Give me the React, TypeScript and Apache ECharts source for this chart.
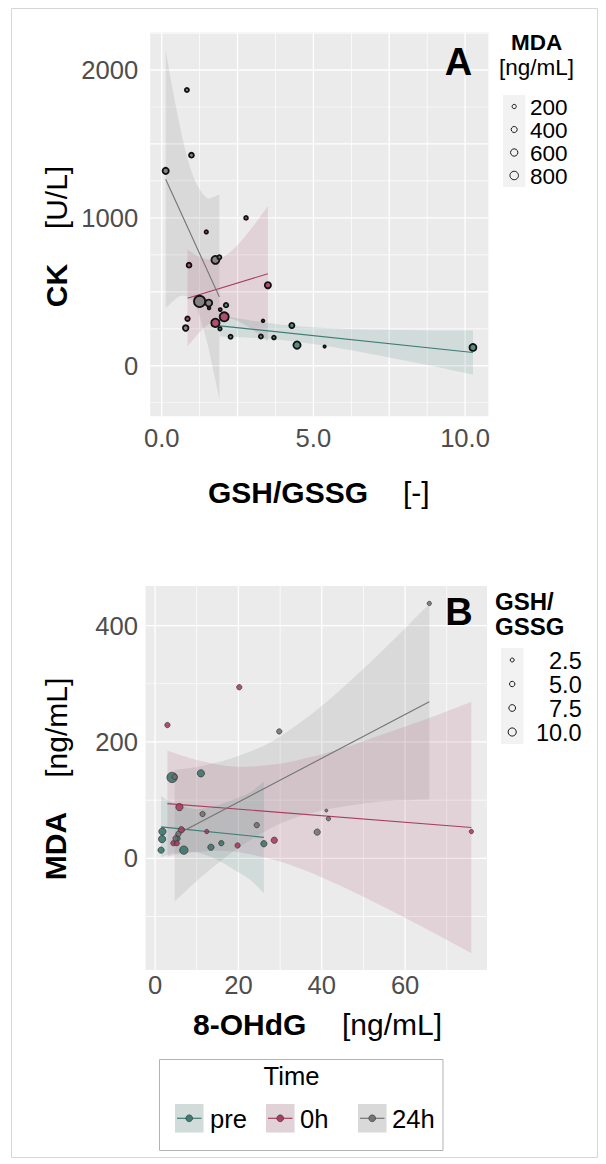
import React, { useEffect, useRef } from "react";
import * as echarts from "echarts";

const FONT = '"Liberation Sans", Arial, Helvetica, sans-serif';

// ---------- Panel A : CK vs GSH/GSSG, size = MDA ----------
const preA_gsh = [2.12, 1.92, 2.27, 3.27, 3.7, 4.29, 4.46, 10.26, 3.34, 5.37];
const preA_ck = [410, 250, 196, 198, 191, 272, 140, 124, 304, 130];
const preA_mda = [225, 131, 184, 184, 156, 294, 590, 539, 80, 62];
const h0A_gsh = [2.78, 1.47, 0.9, 3.5, 1.56, 1.93, 2.06, 0.85, 1.77];
const h0A_ck = [1000, 905, 680, 545, 390, 380, 331, 318, 290];
const h0A_mda = [156, 131, 258, 429, 80, 100, 922, 225, 776];
const h24A_gsh = [0.13, 0.83, 0.98, 1.77, 1.9, 1.25, 1.55, 0.79];
const h24A_ck = [1318, 1865, 1424, 716, 734, 435, 424, 255];
const h24A_mda = [429, 184, 258, 717, 184, 1406, 539, 345];

const preA_fitX = [1.92, 10.26];
const preA_fitY = [270, 90];
const h0A_fitX = [0.85, 3.5];
const h0A_fitY = [457, 622];
const h24A_fitX = [0.13, 1.9];
const h24A_fitY = [1262, 466];

const preA_bandX = [1.92, 2.5, 3.0, 3.5, 4.1, 5, 6, 7, 8, 9, 10.26];
const preA_bandHi = [342, 321, 305, 290, 275, 260, 250, 244, 242, 239, 239];
const preA_bandLo = [198, 194, 189, 182, 171, 147, 114, 76, 36, -5, -59];
const h0A_bandX = [0.85, 1.2, 1.5, 1.87, 2.2, 2.6, 3.0, 3.5];
const h0A_bandHi = [784, 742, 720, 722, 760, 839, 940, 1080];
const h0A_bandLo = [130, 216, 274, 318, 322, 293, 242, 164];
const h24A_bandX = [0.13, 0.35, 0.6, 0.85, 1.15, 1.48, 1.7, 1.9];
const h24A_bandHi = [2135, 1880, 1620, 1400, 1230, 1137, 1142, 1160];
const h24A_bandLo = [389, 432, 470, 466, 389, 171, -31, -225];

// ---------- Panel B : MDA vs 8-OHdG, size = GSH/GSSG ----------
const preB_ohdg = [4.08, 11.0, 1.76, 1.68, 1.44, 6.9, 13.4, 15.9, 26.1, 5.4];
const preB_mda = [139, 146, 46, 33, 14, 14, 19, 26, 25, 34];
const preB_gsh = [14, 8.5, 8.5, 8.5, 6.7, 10.4, 6.7, 4.9, 6.7, 4.9];
const h0B_ohdg = [20.2, 2.96, 5.84, 75.9, 6.3, 12.4, 19.8, 28.6, 4.4, 5.2];
const h0B_mda = [294, 229, 88, 46, 49, 46, 22, 31, 26, 26];
const h0B_gsh = [4.9, 4.9, 8.5, 3.1, 6.7, 3.1, 4.9, 6.7, 4.9, 4.9];
const h24B_ohdg = [65.8, 29.8, 4.7, 11.4, 24.4, 41.1, 41.6, 38.9, 5.6, 4.9];
const h24B_mda = [438, 218, 140, 76, 57, 82, 68, 45, 42, 34];
const h24B_gsh = [3.1, 4.9, 4.9, 4.9, 4.9, 0.5, 3.1, 6.7, 4.9, 4.9];

const preB_fitX = [1.44, 26.1];
const preB_fitY = [54, 36];
const h0B_fitX = [2.96, 75.9];
const h0B_fitY = [94, 53];
const h24B_fitX = [4.7, 65.8];
const h24B_fitY = [39, 269];

const preB_bandX = [1.44, 3, 5, 9.1, 12, 15, 20, 23, 26.1];
const preB_bandHi = [107, 100, 93, 85, 86, 91, 104, 114, 132];
const preB_bandLo = [2, 6, 9, 11, 6, -3, -24, -38, -60];
const h0B_bandX = [2.96, 10, 18.2, 27, 35, 45, 55, 65, 75.9];
const h0B_bandHi = [185, 169, 158, 160, 170, 189, 214, 239, 269];
const h0B_bandLo = [3, 11, 12, 0, -18, -49, -84, -121, -163];
const h24B_bandX = [4.7, 10, 15, 20, 26.8, 33, 40, 47, 55, 65.8];
const h24B_bandHi = [152, 157, 165, 176, 196, 224, 262, 306, 360, 437];
const h24B_bandLo = [-74, -39, -9, 18, 48, 68, 82, 91, 98, 101];

// ---------- axes / legends ----------
const A_xRange = [-0.38, 10.77];
const A_yRange = [-341, 2253];
const B_xRange = [-2.3, 79.65];
const B_yRange = [-192, 468];
const A_xTicks = [0, 2.5, 5, 7.5, 10];
const A_xLabels = [0, 5, 10];
const A_yTicks = [0, 500, 1000, 1500, 2000];
const A_yLabels = [0, 1000, 2000];
const A_xMinor = [1.25, 3.75, 6.25, 8.75];
const A_yMinor = [-250, 250, 750, 1250, 1750, 2250];
const B_xTicks = [0, 20, 40, 60];
const B_xMinor = [10, 30, 50, 70];
const B_yTicks = [0, 200, 400];
const B_yMinor = [-100, 100, 300];
const mdaLegend = [200, 400, 600, 800];
const gshLegend = [2.5, 5.0, 7.5, 10.0];
const timeLevels = ["pre", "0h", "24h"];

const C = { teal: "#3d7d74", red: "#a83f60", gray: "#747474" };
const PT_A = { teal: "rgba(70,134,124,0.92)", red: "rgba(172,66,100,0.92)", gray: "rgba(125,125,125,0.92)" };
const PT_B = { teal: "rgba(52,112,102,0.85)", red: "rgba(168,52,90,0.85)", gray: "rgba(110,110,110,0.85)" };
const BAND = { teal: "rgba(62,127,118,0.15)", red: "rgba(166,63,96,0.14)", gray: "rgba(130,130,130,0.17)" };
const PANEL_BG = "#ebebeb";

const sizeA = (m: number) => 0.3 * Math.sqrt(m);
const sizeB = (g: number) => 2.6 + 0.55 * g;

function zip2(a: number[], b: number[]) {
  return a.map((v, i) => [v, b[i]]);
}

// Catmull-Rom smoothing of pixel points (rendering only)
function smoothPx(p: number[][], steps = 10) {
  const out: number[][] = [];
  const n = p.length;
  for (let i = 0; i < n - 1; i++) {
    const p0 = p[Math.max(i - 1, 0)];
    const p1 = p[i];
    const p2 = p[i + 1];
    const p3 = p[Math.min(i + 2, n - 1)];
    for (let s = 0; s < steps; s++) {
      const t = s / steps;
      const t2 = t * t;
      const t3 = t2 * t;
      const f = (a: number, b: number, c: number, d: number) =>
        0.5 * (2 * b + (-a + c) * t + (2 * a - 5 * b + 4 * c - d) * t2 + (-a + 3 * b - 3 * c + d) * t3);
      out.push([f(p0[0], p1[0], p2[0], p3[0]), f(p0[1], p1[1], p2[1], p3[1])]);
    }
  }
  out.push(p[n - 1]);
  return out;
}

function bandSeries(id: string, gi: number, xs: number[], lo: number[], hi: number[], color: string) {
  return {
    id,
    type: "custom",
    xAxisIndex: gi,
    yAxisIndex: gi,
    silent: true,
    z: 3,
    clip: true,
    encode: { x: 0, y: [1, 2] },
    data: xs.map((x, i) => [x, lo[i], hi[i]]),
    renderItem: (params: any, api: any) => {
      if (params.dataIndex !== 0) return { type: "group", children: [] };
      const top = smoothPx(xs.map((x, i) => api.coord([x, hi[i]])));
      const bot = smoothPx(xs.map((x, i) => api.coord([x, lo[i]])));
      const pts = top.concat(bot.reverse());
      return { type: "polygon", shape: { points: pts }, style: { fill: color, stroke: "none" } };
    },
  };
}

// panel background + white grid lines, placed through the axes' scales
function panelSeries(id: string, gi: number, xMaj: number[], xMin: number[], yMaj: number[], yMin: number[], xr: number[], yr: number[]) {
  const rows: number[][] = [
    ...xMin.map((v) => [v, 0, 0]),
    ...yMin.map((v) => [v, 1, 0]),
    ...xMaj.map((v) => [v, 0, 1]),
    ...yMaj.map((v) => [v, 1, 1]),
  ];
  return {
    id,
    type: "custom",
    xAxisIndex: gi,
    yAxisIndex: gi,
    silent: true,
    z: 1,
    clip: false,
    encode: { x: 0, y: 1 },
    data: rows,
    renderItem: (params: any, api: any) => {
      const p0 = api.coord([xr[0], yr[1]]);
      const p1 = api.coord([xr[1], yr[0]]);
      const children: any[] = [];
      if (params.dataIndex === 0) {
        children.push({
          type: "rect",
          z2: -10,
          shape: { x: p0[0], y: p0[1], width: p1[0] - p0[0], height: p1[1] - p0[1] },
          style: { fill: PANEL_BG },
        });
      }
      const v = rows[params.dataIndex][0];
      const horiz = rows[params.dataIndex][1] === 1;
      const w = rows[params.dataIndex][2] === 1 ? 1.3 : 0.7;
      if (horiz) {
        const c = api.coord([xr[0], v]);
        children.push({ type: "rect", z2: 1, shape: { x: p0[0], y: c[1] - w / 2, width: p1[0] - p0[0], height: w }, style: { fill: "#ffffff" } });
      } else {
        const c = api.coord([v, yr[0]]);
        children.push({ type: "rect", z2: 1, shape: { x: c[0] - w / 2, y: p0[1], width: w, height: p1[1] - p0[1] }, style: { fill: "#ffffff" } });
      }
      return { type: "group", children };
    },
  };
}

function fitSeries(id: string, gi: number, xs: number[], ys: number[], color: string) {
  return {
    id,
    type: "line",
    xAxisIndex: gi,
    yAxisIndex: gi,
    symbol: "none",
    silent: true,
    z: 4,
    lineStyle: { color, width: 1.1 },
    data: zip2(xs, ys),
  };
}

function pointSeries(id: string, gi: number, xs: number[], ys: number[], s: number[], fill: string, sizeFn: (v: number) => number, bw: number, bc: string) {
  return {
    id,
    type: "scatter",
    xAxisIndex: gi,
    yAxisIndex: gi,
    z: 5,
    silent: true,
    symbol: "circle",
    data: xs.map((x, i) => [x, ys[i], s[i]]),
    symbolSize: (v: number[]) => sizeFn(v[2]),
    itemStyle: { color: fill, borderColor: bc, borderWidth: bw, opacity: 1 },
  };
}

const tickStyle = { show: true, length: 3, inside: false, lineStyle: { color: "#333", width: 1 } };
const labelBase = { fontFamily: FONT, fontSize: 25.6, color: "#4d4d4d" };

function txt(text: string, x: number, y: number, font: string, align = "center", rot = 0, fill = "#000") {
  return {
    type: "text",
    x,
    y,
    z: 100,
    rotation: rot,
    silent: true,
    style: { text, font, fill, align, verticalAlign: "middle", textAlign: align, textVerticalAlign: "middle" },
  };
}

function buildGraphic() {
  const els: any[] = [];
  els.push({ type: "rect", z: 100, silent: true, shape: { x: 11.5, y: 8.5, width: 586, height: 1149 }, style: { fill: "none", stroke: "#d6d6d6", lineWidth: 1 } });
  els.push(txt("A", 458.5, 62, `bold 38px ${FONT}`));
  els.push(txt("B", 459, 612, `bold 38px ${FONT}`));
  els.push(txt("GSH/GSSG", 208, 492, `bold 30px ${FONT}`, "left"));
  els.push(txt("[-]", 403, 492, `30px ${FONT}`, "left"));
  els.push(txt("CK", 56, 285.5, `bold 30px ${FONT}`, "center", Math.PI / 2));
  els.push(txt("[U/L]", 56, 197.5, `30px ${FONT}`, "center", Math.PI / 2));
  els.push(txt("8-OHdG", 193, 1024, `bold 30px ${FONT}`, "left"));
  els.push(txt("[ng/mL]", 342, 1024, `30px ${FONT}`, "left"));
  els.push(txt("MDA", 55, 846, `bold 30px ${FONT}`, "center", Math.PI / 2));
  els.push(txt("[ng/mL]", 56, 727.7, `30px ${FONT}`, "center", Math.PI / 2));

  // MDA size legend
  els.push(txt("MDA", 536.7, 42.5, `bold 22.5px ${FONT}`));
  els.push(txt("[ng/mL]", 536.5, 67.5, `22.5px ${FONT}`));
  mdaLegend.forEach((m, i) => {
    const y0 = 95 + i * 23;
    els.push({ type: "rect", z: 100, silent: true, shape: { x: 503, y: y0, width: 22.5, height: 23 }, style: { fill: "#f2f2f2" } });
    els.push({ type: "circle", z: 101, silent: true, shape: { cx: 514.2, cy: y0 + 11.5, r: sizeA(m) / 2 }, style: { fill: "none", stroke: "#000", lineWidth: 0.9 } });
    els.push(txt(String(m), 530, y0 + 12, `22.5px ${FONT}`, "left"));
  });

  // GSH/GSSG size legend
  els.push(txt("GSH/", 495, 601, `bold 24px ${FONT}`, "left"));
  els.push(txt("GSSG", 495, 626, `bold 24px ${FONT}`, "left"));
  gshLegend.forEach((g, i) => {
    const y0 = 648 + i * 24;
    els.push({ type: "rect", z: 100, silent: true, shape: { x: 501, y: y0, width: 22.5, height: 24 }, style: { fill: "#f2f2f2" } });
    els.push({ type: "circle", z: 101, silent: true, shape: { cx: 512.2, cy: y0 + 12, r: sizeB(g) / 2 }, style: { fill: "none", stroke: "#000", lineWidth: 0.9 } });
    els.push(txt(g.toFixed(1), 581.7, y0 + 12.5, `23.5px ${FONT}`, "right"));
  });

  // Time legend
  els.push({ type: "rect", z: 100, silent: true, shape: { x: 159.5, y: 1059.5, width: 283.5, height: 91 }, style: { fill: "#fff", stroke: "#b3b3b3", lineWidth: 1 } });
  els.push(txt("Time", 291.5, 1076, `25.6px ${FONT}`));
  const keyX = [175, 266, 358];
  const labX = [210, 300, 392];
  const cols = [C.teal, C.red, C.gray];
  const bands = [BAND.teal, BAND.red, BAND.gray];
  timeLevels.forEach((lv, i) => {
    const kx = keyX[i];
    els.push({ type: "rect", z: 101, silent: true, shape: { x: kx, y: 1104, width: 28.5, height: 28.5 }, style: { fill: "#ebebeb" } });
    els.push({ type: "rect", z: 102, silent: true, shape: { x: kx, y: 1104, width: 28.5, height: 28.5 }, style: { fill: bands[i] } });
    els.push({ type: "line", z: 103, silent: true, shape: { x1: kx + 2, y1: 1118.3, x2: kx + 26.5, y2: 1118.3 }, style: { stroke: cols[i], lineWidth: 1.2 } });
    els.push({ type: "circle", z: 104, silent: true, shape: { cx: kx + 14.2, cy: 1118.3, r: 3.4 }, style: { fill: cols[i], stroke: "#333", lineWidth: 0.6 } });
    els.push(txt(lv, labX[i], 1119, `25.6px ${FONT}`, "left"));
  });
  return els;
}

function buildOption() {
  return {
    animation: false,
    backgroundColor: "#ffffff",
    grid: [
      { left: 150.2, top: 32.6, width: 338.2, height: 383.6, show: false },
      { left: 145.5, top: 586, width: 341.5, height: 384, show: false },
    ],
    xAxis: [
      {
        gridIndex: 0, type: "value", min: A_xRange[0], max: A_xRange[1],
        axisLine: { show: false }, splitLine: { show: false },
        axisTick: { ...tickStyle, customValues: A_xTicks },
        axisLabel: { ...labelBase, margin: 9, customValues: A_xLabels, formatter: (v: number) => v.toFixed(1) },
      },
      {
        gridIndex: 1, type: "value", min: B_xRange[0], max: B_xRange[1],
        axisLine: { show: false }, splitLine: { show: false },
        axisTick: { ...tickStyle, customValues: B_xTicks },
        axisLabel: { ...labelBase, margin: 2, customValues: B_xTicks, formatter: (v: number) => String(v) },
      },
    ],
    yAxis: [
      {
        gridIndex: 0, type: "value", min: A_yRange[0], max: A_yRange[1],
        axisLine: { show: false }, splitLine: { show: false },
        axisTick: { ...tickStyle, customValues: A_yTicks },
        axisLabel: { ...labelBase, margin: 12, customValues: A_yLabels, formatter: (v: number) => String(v) },
      },
      {
        gridIndex: 1, type: "value", min: B_yRange[0], max: B_yRange[1],
        axisLine: { show: false }, splitLine: { show: false },
        axisTick: { ...tickStyle, customValues: B_yTicks },
        axisLabel: { ...labelBase, margin: 7.5, customValues: B_yTicks, formatter: (v: number) => String(v) },
      },
    ],
    series: [
      panelSeries("gA", 0, A_xTicks, A_xMinor, A_yTicks, A_yMinor, A_xRange, A_yRange),
      bandSeries("bA24", 0, h24A_bandX, h24A_bandLo, h24A_bandHi, BAND.gray),
      bandSeries("bA0", 0, h0A_bandX, h0A_bandLo, h0A_bandHi, BAND.red),
      bandSeries("bApre", 0, preA_bandX, preA_bandLo, preA_bandHi, BAND.teal),
      fitSeries("fApre", 0, preA_fitX, preA_fitY, C.teal),
      fitSeries("fA0", 0, h0A_fitX, h0A_fitY, C.red),
      fitSeries("fA24", 0, h24A_fitX, h24A_fitY, C.gray),
      pointSeries("pA24", 0, h24A_gsh, h24A_ck, h24A_mda, PT_A.gray, sizeA, 1.8, "#111"),
      pointSeries("pA0", 0, h0A_gsh, h0A_ck, h0A_mda, PT_A.red, sizeA, 1.8, "#111"),
      pointSeries("pApre", 0, preA_gsh, preA_ck, preA_mda, PT_A.teal, sizeA, 1.8, "#111"),

      panelSeries("gB", 1, B_xTicks, B_xMinor, B_yTicks, B_yMinor, B_xRange, B_yRange),
      bandSeries("bB24", 1, h24B_bandX, h24B_bandLo, h24B_bandHi, BAND.gray),
      bandSeries("bB0", 1, h0B_bandX, h0B_bandLo, h0B_bandHi, BAND.red),
      bandSeries("bBpre", 1, preB_bandX, preB_bandLo, preB_bandHi, BAND.teal),
      fitSeries("fBpre", 1, preB_fitX, preB_fitY, C.teal),
      fitSeries("fB0", 1, h0B_fitX, h0B_fitY, C.red),
      fitSeries("fB24", 1, h24B_fitX, h24B_fitY, C.gray),
      pointSeries("pBpre", 1, preB_ohdg, preB_mda, preB_gsh, PT_B.teal, sizeB, 0.7, "#333"),
      pointSeries("pB0", 1, h0B_ohdg, h0B_mda, h0B_gsh, PT_B.red, sizeB, 0.7, "#333"),
      pointSeries("pB24", 1, h24B_ohdg, h24B_mda, h24B_gsh, PT_B.gray, sizeB, 0.7, "#333"),
    ],
    graphic: { elements: buildGraphic() },
  };
}

export default function App() {
  const ref = useRef<HTMLDivElement>(null);
  useEffect(() => {
    if (!ref.current) return;
    const chart = echarts.init(ref.current, undefined, { renderer: "svg" });
    chart.setOption(buildOption() as any);
    return () => chart.dispose();
  }, []);
  return <div ref={ref} style={{ position: "absolute", left: 0, top: 0, width: 606, height: 1164, background: "#fff" }} />;
}
